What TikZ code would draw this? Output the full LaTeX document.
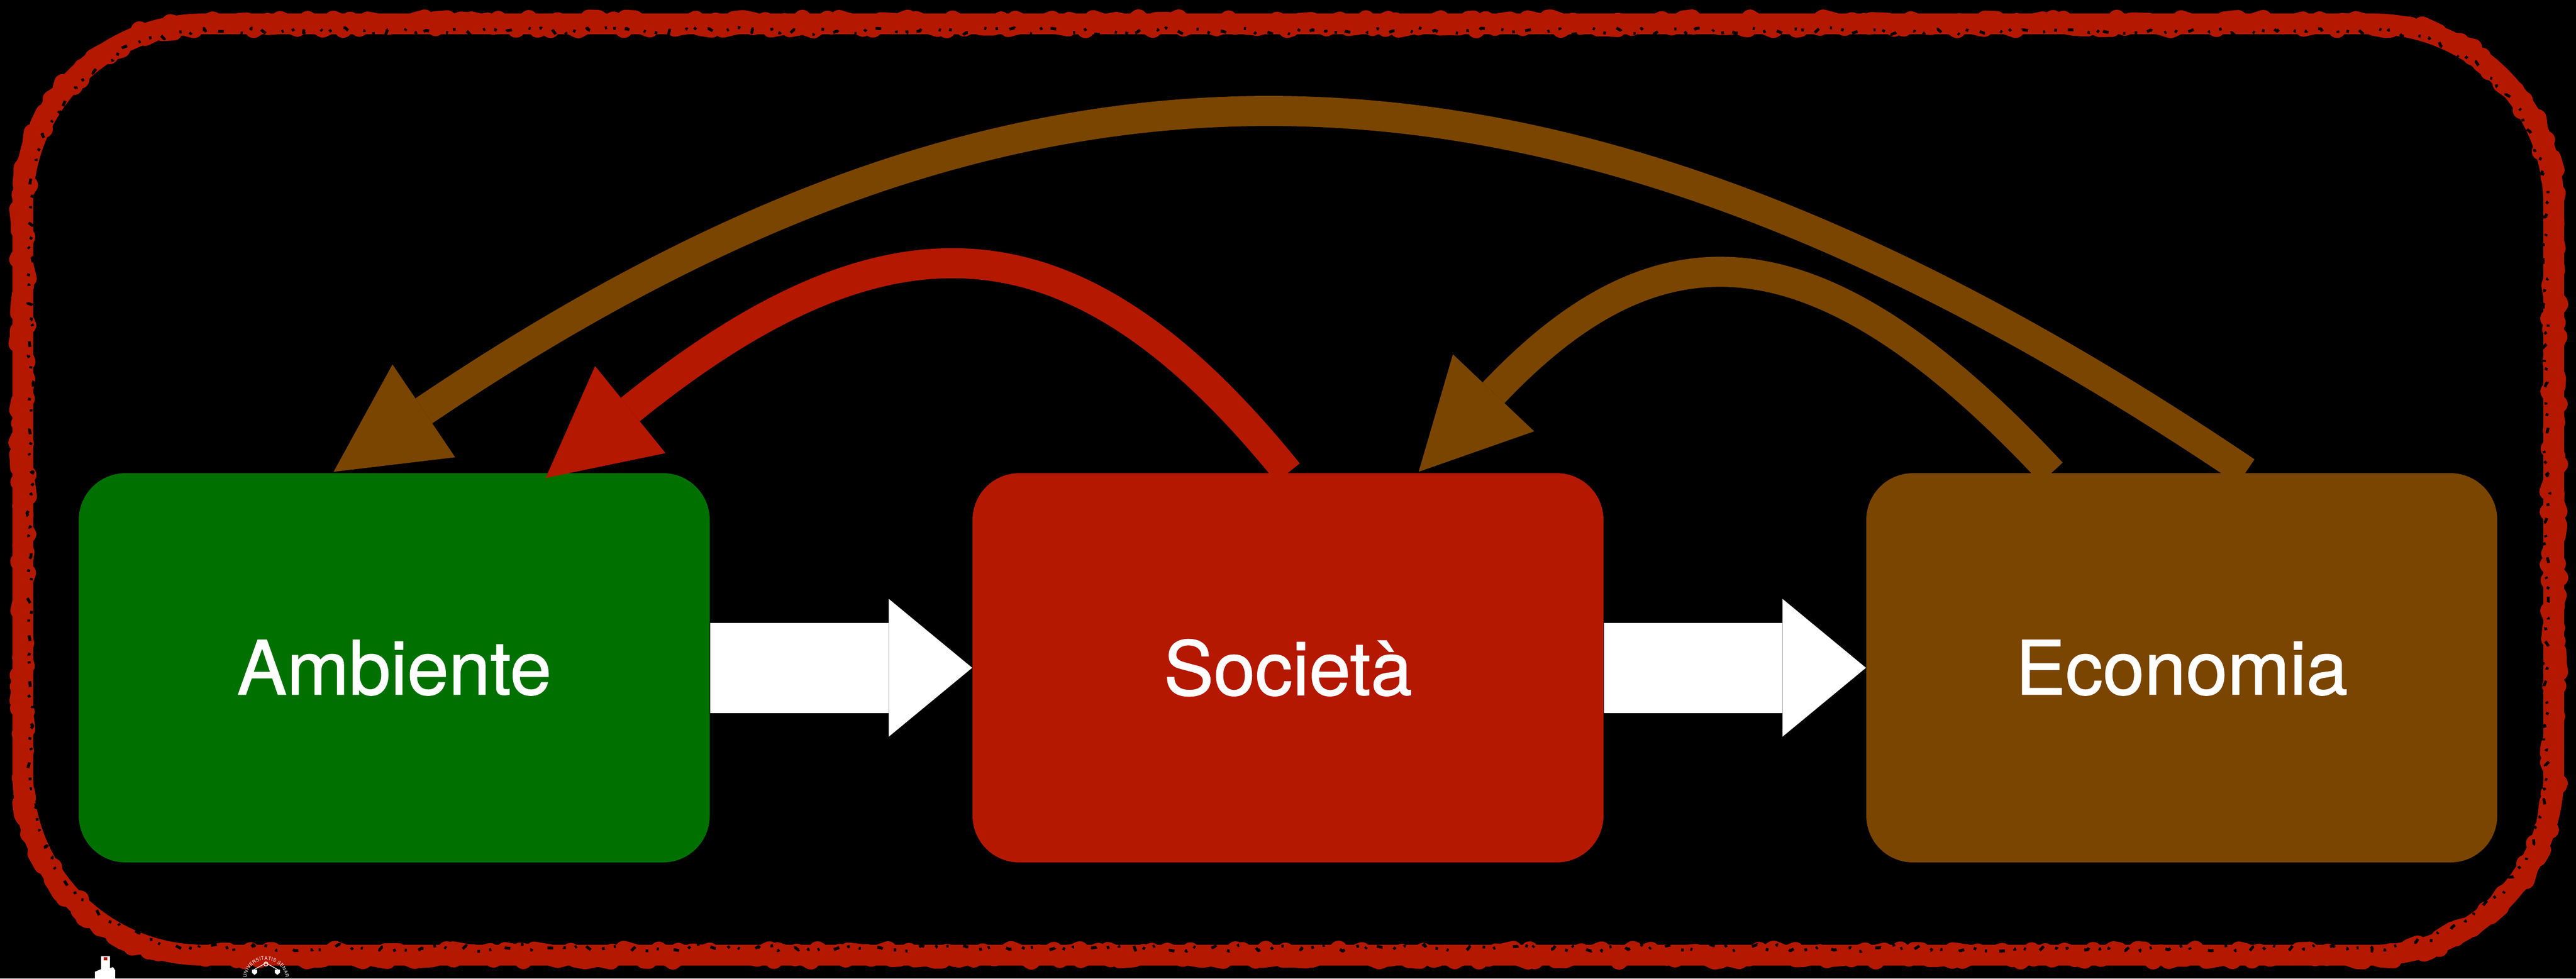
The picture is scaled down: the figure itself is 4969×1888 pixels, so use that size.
\documentclass[tikz,border=0pt]{standalone}
\usepackage{fontspec}
\newfontfamily\boxfont[FakeBold=1]{TeX Gyre Heros}
\newfontfamily\sealfontfam{TeX Gyre Heros}
\newcommand\sealfont{\sealfontfam\fontsize{2.6pt}{3pt}\selectfont}
\usetikzlibrary{arrows.meta,decorations.pathmorphing,decorations.text,calc}
\definecolor{ambg}{RGB}{0,112,0}
\definecolor{socr}{RGB}{180,24,0}
\definecolor{ecob}{RGB}{122,69,0}
\newcommand\framepath[1]{%
  (44+#1,46) -- (4926-#1,46) arc[start angle=270, end angle=360, radius=#1]
  -- (4926,1843-#1) arc[start angle=0, end angle=90, radius=#1]
  -- (44+#1,1843) arc[start angle=90, end angle=180, radius=#1]
  -- (44,46+#1) arc[start angle=180, end angle=270, radius=#1] -- cycle}
\begin{document}
\begin{tikzpicture}[x=0.1mm,y=-0.1mm,
  box/.style={rectangle, rounded corners=9mm, minimum width=121.7mm, minimum height=75.1mm,
    text=white, font=\boxfont\fontsize{41}{49}\selectfont, inner sep=0pt},
  blockarrow/.style={white, line width=17.4mm,
    -{Triangle[length=16.1mm, width=26.6mm, line width=0pt]}},
  bentarrow/.style={line width=5.8mm,
    -{Triangle[length=21mm, width=21.6mm, line width=0pt]}},
  frame/.style={socr}]
\pgfmathsetseed{4242}
\fill[black] (0,0) rectangle (4969,1888);
\useasboundingbox (0,0) rectangle (4969,1888);

% rough frame
\draw[frame, line width=4.0mm] \framepath{350};
\draw[frame, line width=3.4mm, line join=round, decorate,
  decoration={random steps, segment length=1.3mm, amplitude=1.1mm}] \framepath{350};
\draw[black, line width=0.55mm, line join=round,
  dash pattern=on 0.5mm off 2.4mm on 1.1mm off 3.6mm on 0.4mm off 1.8mm,
  decorate, decoration={random steps, segment length=0.9mm, amplitude=0.7mm}]
  (44+350,60) -- (4926-350,60) arc[start angle=270, end angle=360, radius=336]
  -- (4912,1843-350) arc[start angle=0, end angle=90, radius=336]
  -- (44+350,1829) arc[start angle=90, end angle=180, radius=336]
  -- (58,46+350) arc[start angle=180, end angle=270, radius=336] -- cycle;

% boxes
\node[box, fill=ambg] (amb) at (760.5,1288.5) {Ambiente};
\node[box, fill=socr] (soc) at (2484.5,1288.5) {Società};
\node[box, fill=ecob] (eco) at (4208.5,1288.5) {Economia};

% block arrows
\draw[blockarrow] (amb.east) -- (soc.west);
\draw[blockarrow] (soc.east) -- (eco.west);

% curved arrows
\coordinate (bigS) at ($(eco.north)+(124,-2)$);
\coordinate (bigT) at ($(amb.north)+(-117,-2)$);
\coordinate (redS) at ($(soc.north)+(0,0)$);
\coordinate (redT) at ($(amb.north)+(292,10)$);
\coordinate (smS) at ($(eco.north)+(-251,0)$);
\coordinate (smT) at ($(soc.north)+(252,-2)$);

\draw[bentarrow, ecob] (bigS) .. controls +(-1392,-940) and +(1299,-877) .. (bigT);
\draw[bentarrow, socr] (redS) .. controls +(-401,-497) and +(673,-544) .. (redT);
\draw[bentarrow, ecob] (smS) .. controls +(-462,-496) and +(454,-479) .. (smT);

% small logo at bottom left
\fill[white] (195,1845) -- (212,1845) -- (212,1868) -- (218,1866) -- (222,1872) -- (222,1888)
  -- (183,1888) -- (183,1875) -- (195,1870) -- cycle;
\fill[socr] (200,1847) rectangle (207,1853);
\coordinate (seal) at (513,1890);
\path[decorate, decoration={text along path, text={|\sealfont|UNIVERSITATIS SENAR},
  text color=white, text align={fit to path}}]
  (seal) ++(186:38) arc[start angle=186, end angle=354, radius=38];
\draw[white, line width=0.12mm] ($(seal)+(-25,-18)$) -- ($(seal)+(0,-32)$) -- ($(seal)+(25,-18)$);
\draw[white, line width=0.12mm] ($(seal)+(0,-30)$) circle[radius=4];
\fill[white] ($(seal)+(-27,-19)$) -- ($(seal)+(-17,-19)$) -- ($(seal)+(-17,-13)$) -- ($(seal)+(-22,-9)$) -- ($(seal)+(-27,-13)$) -- cycle;
\fill[white] ($(seal)+(17,-19)$) -- ($(seal)+(27,-19)$) -- ($(seal)+(27,-13)$) -- ($(seal)+(22,-9)$) -- ($(seal)+(17,-13)$) -- cycle;
\end{tikzpicture}
\end{document}
